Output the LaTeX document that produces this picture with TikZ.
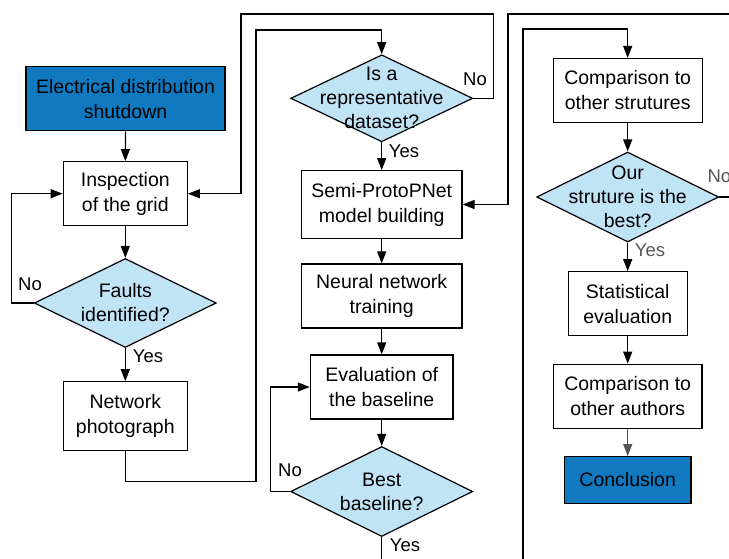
\documentclass[tikz,border=0pt]{standalone}
\usepackage{fontspec}
\setmainfont{Liberation Sans}
\usetikzlibrary{shapes.geometric}
\usetikzlibrary{arrows.meta}
\definecolor{darkblue}{HTML}{1079BF}
\definecolor{lightblue}{HTML}{C1E3F6}
\definecolor{labelgray}{HTML}{555555}

\tikzset{
	process/.style={draw,rectangle,align=center,inner sep=0pt,minimum width=#1,minimum height=64pt},
	terminal/.style={process=#1,fill=darkblue},
	decision/.style={draw,diamond,fill=lightblue,inner sep=0pt,minimum width=182pt,minimum height=89pt},
	answer/.style={font=\fontsize{18.5}{22}\selectfont,inner sep=0pt},
	every label/.style={align=center,inner sep=0pt,font=\fontsize{19.5}{24}\selectfont},
}

\begin{document}
\begin{tikzpicture}[x=1pt,y=-1pt,line width=1.2pt,>={Triangle[length=12pt,width=9pt]},font=\fontsize{19.5}{25}\selectfont]
	\useasboundingbox (0,0) rectangle (729,558);
	\clip (0,0) rectangle (729,558);
	% first column
	\node[terminal=199pt] (shutdown) at (125.5,98.7) {Electrical distribution\\shutdown};
	\node[process=124pt] (inspect) at (125.3,193.7) {Inspection\\of the grid};
	\node[decision,label={[name=faultstext]center:Faults\\identified?}] (faults) at (125.3,303) {};
	\node[process=124pt,minimum height=69pt] (photo) at (125.3,416.3) {Network\\photograph};
	% second column
	\node[decision,minimum height=87pt,label={[name=datasettext]center:Is a\\representative\\dataset?}] (dataset) at (381.7,98.3) {};
	\node[process=160.6pt,minimum height=67.6pt] (semi) at (381.7,204.5) {Semi-ProtoPNet\\model building};
	\node[process=160.6pt] (neural) at (381.7,296) {Neural network\\training};
	\node[process=142.7pt] (eval) at (381.7,387) {Evaluation of\\the baseline};
	\node[decision,minimum height=90pt,label={[name=besttext]center:Best\\baseline?}] (best) at (381.7,491.5) {};
	% third column
	\node[process=149pt] (comp) at (627.7,90.5) {Comparison to\\other strutures};
	\node[decision,minimum height=90pt,label={[name=ourstext]center:Our\\struture is the\\best?}] (ours) at (627.7,197) {};
	\node[process=119pt] (stat) at (627.7,303.7) {Statistical\\evaluation};
	\node[process=148.7pt] (auth) at (627.7,396.2) {Comparison to\\other authors};
	\node[terminal=126.4pt,minimum height=46.7pt] (concl) at (627.7,480) {Conclusion};

	\draw[->] (shutdown) -- (inspect);
	\draw[->] (inspect) -- (faults);
	\draw[->] (faults.west) -- ++(-22,0) |- (inspect.west);
	\node[answer] (nofaults) at (30,284) {No};
	\draw[->] (faults) -- (photo);
	\node[answer] (yesfaults) at (148,356) {Yes};
	\draw[->] (photo.south) -- ++(0,30) -| (256,30) -| (dataset.north);

	\draw[->] (dataset.east) -- ++(20,0) |- (241,14) |- (inspect.east);
	\node[answer] (nodataset) at (475,79) {No};
	\draw[->] (dataset) -- (semi);
	\node[answer] (yesdataset) at (404,151) {Yes};
	\draw[->] (semi) -- (neural);
	\draw[->] (neural) -- (eval);
	\draw[->] (eval) -- (best);
	\draw[->] (best.west) -- ++(-20,0) |- (eval.west);
	\node[answer] (nobest) at (290,470) {No};
	\draw[->] (best.south) -- ++(0,40) -| (523,29) -| (comp.north);
	\node[answer] (yesbest) at (405,545) {Yes};

	\draw[->] (comp) -- (ours);
	\draw[->] (ours.east) -- (745,197) |- (508,14) |- (semi.east);
	\node[answer,text=labelgray,anchor=west] (noours) at (707,176) {No};
	\draw[->] (ours) -- (stat);
	\node[answer,text=labelgray] (yesours) at (650,250) {Yes};
	\draw[->] (stat) -- (auth);
	\draw[->,labelgray] (auth) -- (concl);
\end{tikzpicture}
\end{document}
